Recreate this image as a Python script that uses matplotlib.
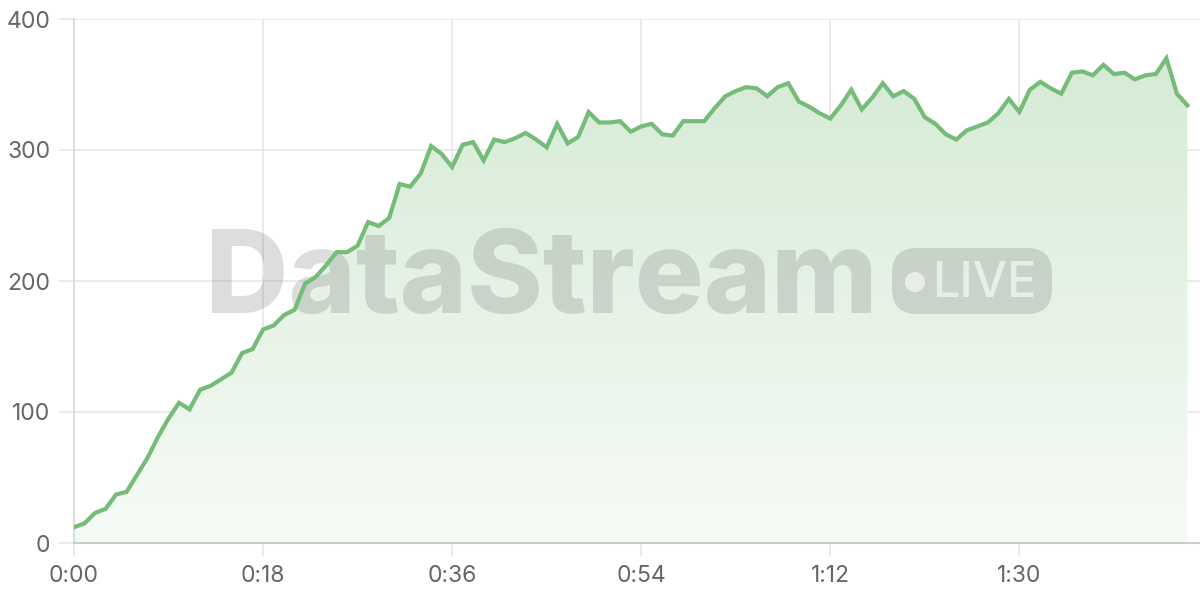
import numpy as np
import matplotlib.pyplot as plt
from matplotlib.colors import LinearSegmentedColormap
from matplotlib.patches import FancyBboxPatch, Circle, PathPatch
from matplotlib.textpath import TextPath
from matplotlib.font_manager import FontProperties
from matplotlib.transforms import Affine2D, IdentityTransform

# 每秒一个采样点 (0:00 - 1:46)
seconds = np.arange(0, 107)
values = [12, 15, 23, 26, 37, 39, 52, 65, 81, 95,
          107, 102, 117, 120, 125, 130, 145, 148, 163, 166,
          174, 178, 198, 203, 212, 222, 222, 227, 245, 242,
          248, 274, 272, 282, 303, 297, 287, 304, 306, 292,
          308, 306, 309, 313, 308, 302, 320, 305, 310, 329,
          321, 321, 322, 314, 318, 320, 312, 311, 322, 322,
          322, 332, 341, 345, 348, 347, 341, 348, 351, 337,
          333, 328, 324, 334, 346, 331, 340, 351, 341, 345,
          339, 325, 320, 312, 308, 315, 318, 321, 328, 339,
          329, 346, 352, 347, 343, 359, 360, 357, 365, 358,
          359, 354, 357, 358, 370, 343, 334]
x_ticks = [0, 18, 36, 54, 72, 90]
x_labels = ['0:00', '0:18', '0:36', '0:54', '1:12', '1:30']
y_ticks = [0, 100, 200, 300, 400]

plt.rcParams['font.family'] = ['Inter', 'DejaVu Sans']

fig = plt.figure(figsize=(12, 6), dpi=100)
ax = fig.add_axes([74 / 1200, 1 - 543 / 600, 1 - 74 / 1200, (543 - 19) / 600])
ax.set_xlim(0, 107.2)
ax.set_ylim(0, 400)

line_color = '#74bc78'

# 渐变填充
fill = ax.fill_between(seconds, values, 0, color='none')
cmap = LinearSegmentedColormap.from_list('g', ['#f6fbf6', '#d3e9d3'])
grad = np.linspace(0, 1, 256).reshape(-1, 1)
img = ax.imshow(grad, cmap=cmap, aspect='auto', origin='lower',
                extent=[0, 107.2, 0, 400], zorder=1)
img.set_clip_path(fill.get_paths()[0], transform=ax.transData)

ax.plot(seconds, values, color=line_color, lw=3, zorder=3, solid_joinstyle='miter')

ax.set_xticks(x_ticks)
ax.set_xticklabels(x_labels)
ax.set_yticks(y_ticks)
ax.grid(True, color='#e6e6e6', lw=1.2, zorder=0)
ax.set_axisbelow(True)
for s in ['top', 'right']:
    ax.spines[s].set_visible(False)
ax.spines['bottom'].set_color('#cccccc')
ax.spines['bottom'].set_linewidth(1.5)
ax.spines['left'].set_color('#dddddd')
ax.spines['left'].set_linewidth(1.5)
ax.tick_params(axis='y', length=11, width=1.2, color='#e6e6e6', pad=6,
               labelsize=16.5, labelcolor='#666666')
ax.tick_params(axis='x', length=9, width=1.2, color='#e6e6e6', pad=7,
               labelsize=16.5, labelcolor='#666666')

# 水印 (按像素拉伸到参考宽度), 放在填充和折线之间
prop = FontProperties(family='Inter', weight=800)
tp = TextPath((0, 0), 'DataStream', size=100, prop=prop)
cap = TextPath((0, 0), 'D', size=100, prop=prop).get_extents()
ext = tp.get_extents()
sx = 659 / ext.width
sy = 84 / cap.height
tr = Affine2D().translate(-ext.x0, 0).scale(sx, sy).translate(212, 600 - 313)
ax.add_artist(PathPatch(tr.transform_path(tp), transform=IdentityTransform(),
                        facecolor='#7a7a7a', edgecolor='none', alpha=0.25,
                        zorder=2, clip_on=False))

inch = fig.dpi_scale_trans
badge = FancyBboxPatch((8.92, (600 - 314) / 100), 1.60, 0.66,
                       boxstyle='round,pad=0,rounding_size=0.25',
                       transform=inch, facecolor='#7a7a7a',
                       alpha=0.25, edgecolor='none', zorder=2, clip_on=False)
ax.add_artist(badge)
ax.add_artist(Circle((9.15, (600 - 282) / 100), 0.10,
                     transform=inch, facecolor='white',
                     alpha=0.6, edgecolor='none', zorder=2.1, clip_on=False))
ax.text(984 / 1200, 1 - 297 / 600, 'LIVE', fontsize=35, fontweight=500,
        color='white', alpha=0.6, ha='center', va='baseline', zorder=2.1,
        transform=fig.transFigure)

plt.savefig('out.png', dpi=100)
